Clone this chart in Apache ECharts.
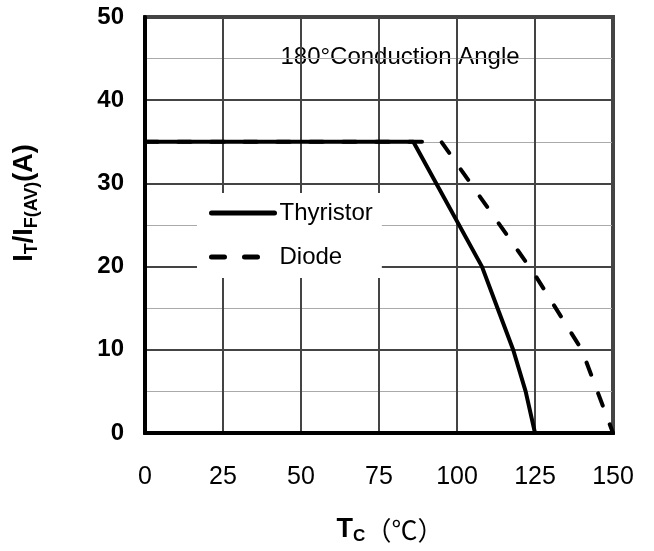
<!DOCTYPE html>
<html>
<head>
<meta charset="utf-8">
<script src="https://cdn.jsdelivr.net/npm/echarts@6/dist/echarts.min.js"></script>
<style>html,body{margin:0;padding:0;background:#fff;}#c{width:654px;height:551px;}</style>
</head>
<body>
<div id="c"></div>
<script>
var xTicks = [0, 25, 50, 75, 100, 125, 150];
var yTicks = [0, 10, 20, 30, 40, 50];
var thyristorX = [0, 86, 108, 113, 118, 122, 125];
var thyristorY = [35, 35, 20, 15, 10, 5, 0];
var diodeX = [0, 95, 125, 140, 148, 150];
var diodeY = [35, 35, 19, 10, 2, 0];
var seriesNames = ['Thyristor', 'Diode'];
var annotation = '180°Conduction Angle';

function pairs(xs, ys) { return xs.map(function (x, i) { return [x, ys[i]]; }); }

var chart = echarts.init(document.getElementById('c'), null, { renderer: 'canvas' });
var font = 'Liberation Sans, Arial, sans-serif';
chart.setOption({
  animation: false,
  backgroundColor: '#fff',
  grid: { left: 145, right: 41, top: 17, bottom: 118, show: true, borderColor: '#444', borderWidth: 4, backgroundColor: 'transparent' },
  xAxis: {
    type: 'value', min: xTicks[0], max: xTicks[xTicks.length - 1], interval: 25,
    axisLine: { show: true, onZero: false, lineStyle: { color: '#000', width: 4 } },
    axisTick: { show: false },
    axisLabel: { margin: 32, fontSize: 25, color: '#000', fontFamily: font },
    splitLine: { show: true, lineStyle: { color: '#444', width: 2 } },
    name: '{b|T}{s|C}{n|（℃）}',
    nameLocation: 'middle', nameGap: 82,
    nameTextStyle: {
      padding: [0, 0, 0, 22],
      rich: {
        b: { fontSize: 27, fontWeight: 'bold', color: '#000', fontFamily: font, lineHeight: 30 },
        s: { fontSize: 17, fontWeight: 'bold', color: '#000', fontFamily: font, lineHeight: 16, verticalAlign: 'bottom' },
        n: { fontSize: 26, color: '#000', fontFamily: 'Noto Sans CJK SC, sans-serif', lineHeight: 30 }
      }
    }
  },
  yAxis: {
    type: 'value', min: yTicks[0], max: yTicks[yTicks.length - 1], interval: 10,
    axisLine: { show: true, onZero: false, lineStyle: { color: '#000', width: 4 } },
    axisTick: { show: false },
    axisLabel: { margin: 21, fontSize: 24, fontWeight: 'bold', color: '#000', fontFamily: font },
    splitLine: { show: true, lineStyle: { color: '#444', width: 2 } },
    minorTick: { show: false, splitNumber: 2 },
    minorSplitLine: { show: true, lineStyle: { color: '#aaa', width: 1 } },
    name: '{b|I}{s|T}{b|/I}{s|F(AV)}{b|(A)}',
    nameLocation: 'middle', nameGap: 104, nameRotate: 90,
    nameTextStyle: {
      padding: [0, 0, 0, 44],
      rich: {
        b: { fontSize: 27, fontWeight: 'bold', color: '#000', fontFamily: font, lineHeight: 32 },
        s: { fontSize: 18, fontWeight: 'bold', color: '#000', fontFamily: font, lineHeight: 16, verticalAlign: 'bottom' }
      }
    }
  },
  legend: {
    orient: 'vertical', left: 197, top: 193,
    backgroundColor: '#fff',
    padding: [8, 9, 9, 12],
    itemWidth: 63, itemHeight: 24, itemGap: 20,
    itemStyle: { opacity: 0 },
    lineStyle: { width: 5 },
    textStyle: { fontSize: 24, lineHeight: 24, color: '#000', fontFamily: font },
    data: seriesNames
  },
  graphic: [{
    type: 'group', z: 10,
    children: [
      { type: 'rect', shape: { x: 263, y: 32, width: 348, height: 53 }, style: { fill: '#fff' } },
      { type: 'text', x: 400, y: 57, style: { text: annotation, fontSize: 24, fill: '#000', fontFamily: font, textAlign: 'center', textVerticalAlign: 'middle' } }
    ]
  }],
  series: [
    { name: seriesNames[0], type: 'line', data: pairs(thyristorX, thyristorY), symbol: 'none', z: 20,
      lineStyle: { color: '#000', width: 4, cap: 'round', join: 'round' }, itemStyle: { color: '#000' } },
    { name: seriesNames[1], type: 'line', data: pairs(diodeX, diodeY), symbol: 'none', z: 20,
      lineStyle: { color: '#000', width: 4, type: [13, 20], cap: 'round', join: 'round' }, itemStyle: { color: '#000' } }
  ]
});
</script>
</body>
</html>
